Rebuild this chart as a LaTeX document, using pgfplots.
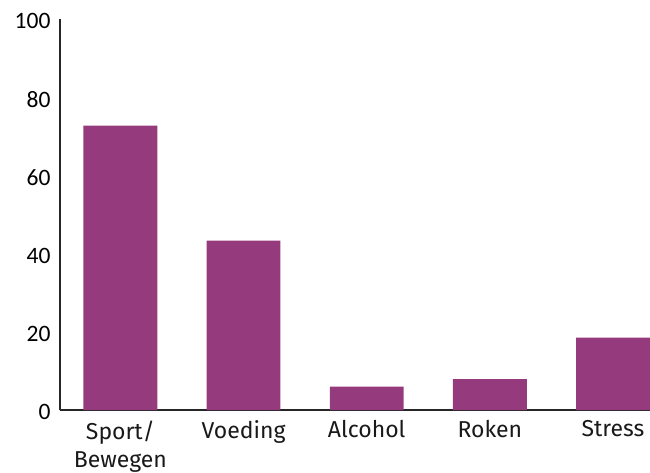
\documentclass[border=0pt]{standalone}
\usepackage{pgfplots}
\pgfplotsset{compat=1.18}
\usepackage{fontspec}
\setmainfont{Fira Sans}
\newfontfamily\tickfont{Carlito}
\definecolor{barc}{HTML}{963A7E}
\definecolor{axc}{HTML}{262626}
\begin{document}
\begin{tikzpicture}[x=1pt,y=1pt]
\useasboundingbox (0,0) rectangle (650,472);
\begin{axis}[
  at={(60pt,62pt)}, anchor=south west,
  scale only axis, width=590pt, height=391pt,
  xmin=-0.49, xmax=4.3, ymin=0, ymax=100,
  axis x line*=bottom, axis y line*=left,
  axis line style={-, color=axc, line width=1.1pt},
  ytick={0,20,...,100}, major tick length=0pt,
  xtick={0,1,2,3,4},
  xticklabels={{Sport/\\Bewegen},Voeding,Alcohol,Roken,Stress},
  x tick label style={align=center, font=\fontsize{23}{28}\selectfont, yshift=-7pt, text=black!90},
  y tick label style={font=\tickfont\fontsize{23.5}{25}\selectfont, xshift=-6pt, yshift=-2pt},
  /pgf/number format/assume math mode=true,
  ybar, bar width=0.6, bar shift=0pt,
  clip=false,
]
\addplot[fill=barc, draw=none] coordinates {(0,72.7) (1,43.3) (2,6) (3,7.9) (4,18.5)};
\end{axis}
\end{tikzpicture}
\end{document}
